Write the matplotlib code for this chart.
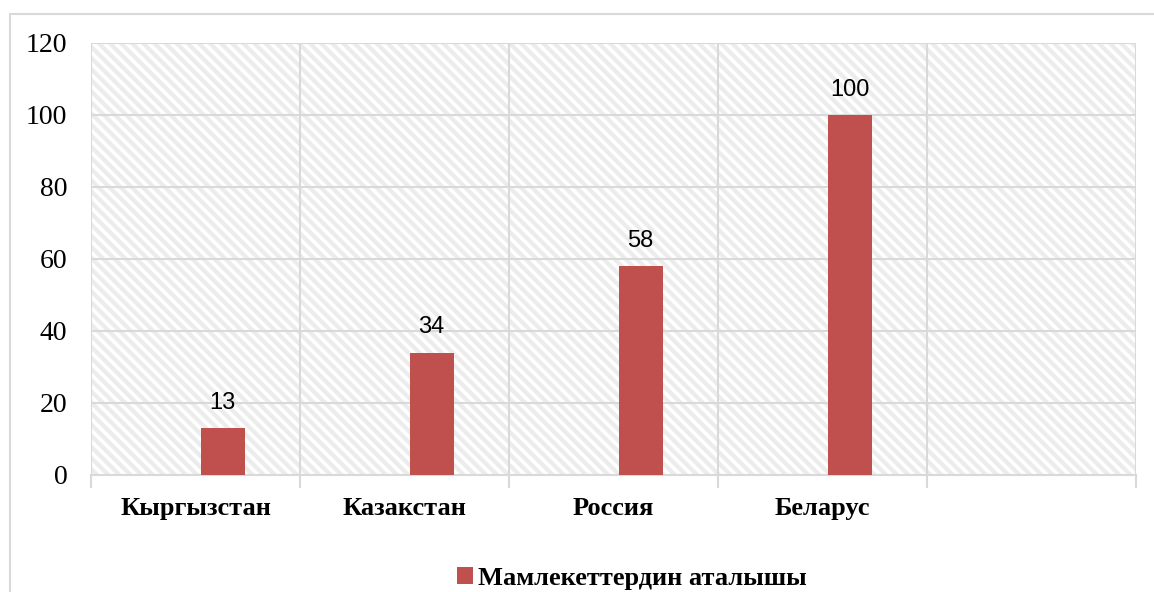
import numpy as np
import matplotlib.pyplot as plt
from matplotlib.patches import Rectangle

categories = ["Кыргызстан", "Казакстан", "Россия", "Беларус", ""]
values = [13, 34, 58, 100, None]
series_name = "Мамлекеттердин аталышы"
y_ticks = [0, 20, 40, 60, 80, 100, 120]

bar_color = "#C0504D"
grid_color = "#D9D9D9"

plt.rcParams["hatch.linewidth"] = 3.0
plt.rcParams["hatch.color"] = "#ECECEC"

fig = plt.figure(figsize=(11.54, 5.92), dpi=100)
ax = fig.add_axes([91 / 1154, 117 / 592, 1045 / 1154, 432 / 592])

# outer chart border
fig.patches.append(Rectangle((10 / 1154, -0.1), 1.2, 1.1 - 14 / 592,
                             transform=fig.transFigure, fill=False,
                             edgecolor=grid_color, linewidth=1.5, zorder=0))

n = len(categories)
x = np.arange(n)
ax.set_xlim(-0.5, n - 0.5)
ax.set_ylim(0, 120)

# hatched plot area
ax.add_patch(Rectangle((0, 0), 1, 1, transform=ax.transAxes, facecolor="white",
                       edgecolor="#ECECEC", hatch="\\\\\\", linewidth=0, zorder=0))

ax.set_yticks(y_ticks)
ax.set_xticks(np.arange(n + 1) - 0.5)
ax.set_xticklabels([])
ax.set_xticks(x, minor=True)
ax.set_xticklabels(categories, minor=True, fontfamily="Liberation Serif",
                   fontweight="bold", fontsize=19)
ax.tick_params(axis="x", which="major", length=9, color=grid_color, width=1.5)
ax.tick_params(axis="x", which="minor", length=0, pad=16)
ax.tick_params(axis="y", length=0, pad=17, labelsize=20)
for lab in ax.get_yticklabels():
    lab.set_fontfamily("Liberation Serif")

ax.grid(True, which="major", color=grid_color, linewidth=1.5, zorder=1)
ax.set_axisbelow(True)
for side in ["top", "right", "left"]:
    ax.spines[side].set_visible(False)
ax.spines["bottom"].set_color(grid_color)
ax.spines["bottom"].set_linewidth(1.5)

xs = [xi + 0.13 for xi, v in zip(x, values) if v is not None]
vs = [v for v in values if v is not None]
bars = ax.bar(xs, vs, width=0.21, color=bar_color, zorder=3, label=series_name)
for b, v in zip(bars, vs):
    ax.text(b.get_x() + b.get_width() / 2, v + 4, str(v), ha="center", va="bottom",
            fontsize=17, fontfamily="Liberation Sans", zorder=4)

leg = fig.legend(handles=[bars], labels=[series_name], loc="center",
                 bbox_to_anchor=(632 / 1154, 1 - 578 / 592), frameon=False,
                 handlelength=0.6, handleheight=0.6, handletextpad=0.2,
                 prop={"family": "Liberation Serif", "weight": "bold", "size": 19})

fig.savefig("out.png", dpi=100, facecolor="white")
